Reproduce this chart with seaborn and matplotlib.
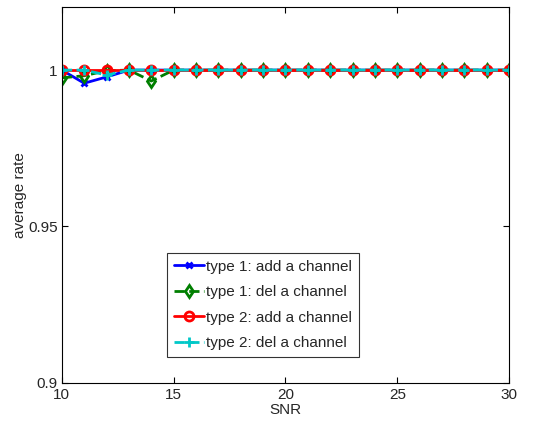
import matplotlib
matplotlib.use("Agg")
import matplotlib.pyplot as plt
import seaborn as sns
import numpy as np
import pandas as pd

snr = list(range(10, 31))
type1_add = [1.0, 0.9958, 0.9978, 1.0] + [1.0] * 17
type1_del = [0.9975, 0.9982, 0.9998, 1.0, 0.9965] + [1.0] * 16
type2_add = [1.0] * 21
type2_del = [1.0, 1.0, 0.9984, 1.0] + [1.0] * 17

labels = ["type 1: add a channel", "type 1: del a channel",
          "type 2: add a channel", "type 2: del a channel"]

sns.set_style("white")
plt.rcParams['font.family'] = ['Liberation Sans', 'DejaVu Sans']

fig = plt.figure(figsize=(5.57, 4.24), dpi=100)
ax = fig.add_axes([0.111, 0.097, 0.803, 0.886])

series = [type1_add, type1_del, type2_add, type2_del]
colors = ["#0000ff", "#007f00", "#ff0000", "#00c8c8"]
styles = ["-", "--", "-", "--"]
markers = ["x", "d", "o", "+"]
msizes = [5, 6.5, 6.5, 7.5]

for vals, lab, c, ls, m, ms in zip(series, labels, colors, styles, markers, msizes):
    df = pd.DataFrame({"SNR": snr, "rate": vals})
    sns.lineplot(data=df, x="SNR", y="rate", ax=ax, color=c, linestyle=ls,
                 linewidth=2, marker=m, markersize=ms, markerfacecolor="none",
                 markeredgecolor=c, markeredgewidth=2, label=lab)

ax.set_xlim(10, 30)
ax.set_ylim(0.9, 1.0201)
ax.set_xticks([10, 15, 20, 25, 30])
ax.set_yticks([0.9, 0.95, 1.0])
ax.set_yticklabels(["0.9", "0.95", "1"])
ax.tick_params(direction="in", top=True, right=True, bottom=True, left=True,
               length=4, width=0.8, labelsize=11, pad=3, color="black")
ax.tick_params(axis="x", pad=4)
ax.set_xlabel("SNR", fontsize=11, labelpad=0.5)
ax.set_ylabel("average rate", fontsize=11, labelpad=1)
for s in ax.spines.values():
    s.set_color("black")
    s.set_linewidth(0.8)

leg = ax.legend(loc="lower left", bbox_to_anchor=(0.235, 0.069), fontsize=11,
                frameon=True, fancybox=False, edgecolor="black", handlelength=2.0,
                handletextpad=0.1, borderpad=0.45, labelspacing=0.75, borderaxespad=0)
leg.get_frame().set_linewidth(0.8)

fig.savefig("out.png", dpi=100)
